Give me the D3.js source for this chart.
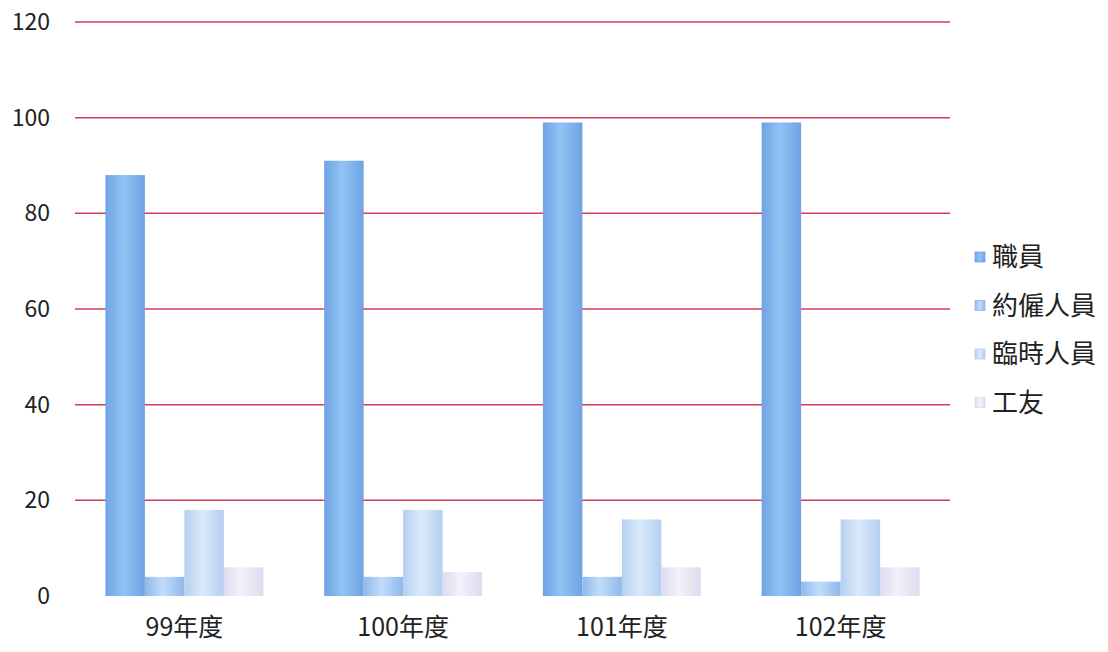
<!DOCTYPE html>
<html>
<head>
<meta charset="utf-8">
<script src="https://d3js.org/d3.v7.min.js"></script>
<style>
	body {margin: 0; background: #fff;}
	text {font-family: "Noto Sans CJK TC", "Open Sans", sans-serif; fill: #222;}
</style>
</head>
<body>
<div id="chart"></div>
<script>
// data
var years = ["99年度", "100年度", "101年度", "102年度"];
var series = ["職員", "約僱人員", "臨時人員", "工友"];
var staff = [88, 91, 99, 99];
var contract = [4, 4, 4, 3];
var temporary = [18, 18, 16, 16];
var workers = [6, 5, 6, 6];
var yTicks = [0, 20, 40, 60, 80, 100, 120];

var values = [staff, contract, temporary, workers];

// colours for each series: edge, middle
var colors = [
	["#6ea3e3", "#92c3f5"],
	["#8fb8ec", "#c2ddfa"],
	["#b4cff0", "#dbeafb"],
	["#dcdcef", "#f2f2fa"]
];

var width = 1108, height = 652;
var plotLeft = 75, plotRight = 950, plotTop = 22, plotBottom = 596;

var svg = d3.select("#chart").append("svg")
	.attr("width", width)
	.attr("height", height);

// horizontal gradients to give the bars a rounded look
var defs = svg.append("defs");
colors.forEach(function(c, i) {
	var g = defs.append("linearGradient")
		.attr("id", "grad" + i)
		.attr("x1", "0%").attr("x2", "100%")
		.attr("y1", "0%").attr("y2", "0%");
	g.append("stop").attr("offset", "0%").attr("stop-color", c[0]);
	g.append("stop").attr("offset", "45%").attr("stop-color", c[1]);
	g.append("stop").attr("offset", "100%").attr("stop-color", c[0]);
});

var yScale = d3.scaleLinear().domain([0, 120]).range([plotBottom, plotTop]);

var xScale = d3.scaleBand().domain(years).range([plotLeft, plotRight])
	.paddingInner(0.278).paddingOuter(0.139);

var xInner = d3.scaleBand().domain(series).range([0, xScale.bandwidth()]);

// grid lines
svg.append("g")
	.selectAll("line")
	.data(yTicks.filter(function(t) { return t > 0; }))
	.enter()
	.append("line")
	.attr("x1", plotLeft)
	.attr("x2", plotRight)
	.attr("y1", function(d) { return yScale(d); })
	.attr("y2", function(d) { return yScale(d); })
	.style("stroke", "#d23c5a")
	.style("stroke-width", 1.5);

// y axis labels
var yAxis = svg.append("g")
	.attr("transform", "translate(" + (plotLeft - 10) + ",0)")
	.call(d3.axisLeft(yScale).tickValues(yTicks).tickSize(0).tickPadding(15));
yAxis.select(".domain").remove();
yAxis.selectAll("text").style("font-size", "23px");

// bars
var groups = svg.append("g")
	.selectAll("g")
	.data(years)
	.enter()
	.append("g")
	.attr("transform", function(d) { return "translate(" + xScale(d) + ",0)"; });

groups.each(function(year, yi) {
	var g = d3.select(this);
	series.forEach(function(s, si) {
		var v = values[si][yi];
		g.append("rect")
			.attr("x", xInner(s))
			.attr("y", yScale(v))
			.attr("width", xInner.bandwidth())
			.attr("height", yScale(0) - yScale(v))
			.style("fill", "url(#grad" + si + ")");
	});
});

// x axis labels
var xAxis = svg.append("g")
	.attr("transform", "translate(0," + plotBottom + ")")
	.call(d3.axisBottom(xScale).tickSize(0).tickPadding(22));
xAxis.select(".domain").remove();
xAxis.selectAll("text").style("font-size", "25px");

// legend
var legend = svg.append("g")
	.selectAll("g")
	.data(series)
	.enter()
	.append("g")
	.attr("transform", function(d, i) { return "translate(975," + (257 + i * 48.5) + ")"; });

legend.append("rect")
	.attr("x", 0)
	.attr("y", -5)
	.attr("width", 10)
	.attr("height", 10)
	.style("fill", function(d, i) { return "url(#grad" + i + ")"; })
	.style("stroke", function(d, i) { return colors[i][0]; })
	.style("stroke-width", 0.8);

legend.append("text")
	.attr("x", 17)
	.attr("y", 0)
	.attr("dy", "0.36em")
	.style("font-size", "26px")
	.text(function(d) { return d; });
</script>
</body>
</html>
